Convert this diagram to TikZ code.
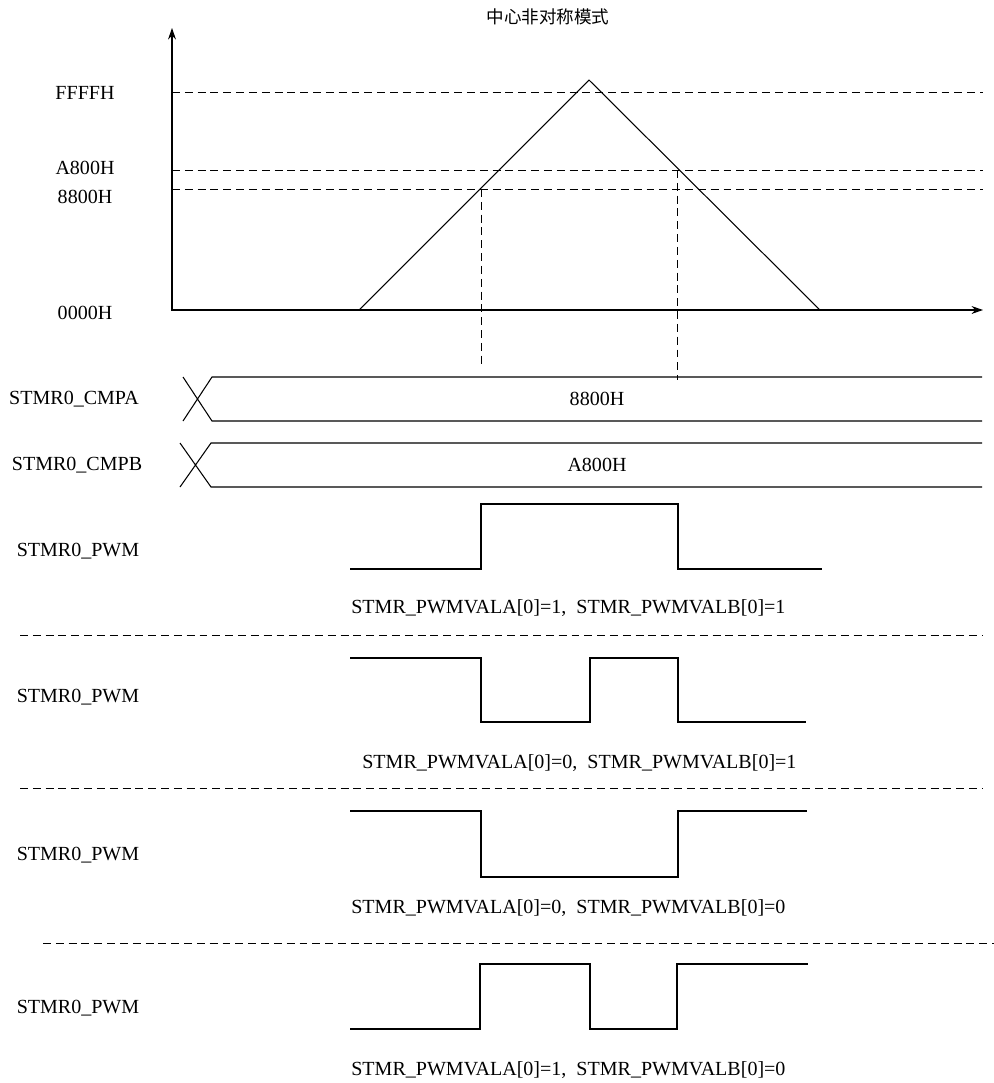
\documentclass[tikz,border=0pt]{standalone}
\usepackage{fontspec}
\setmainfont{Liberation Serif}
\newfontfamily\cjk{Noto Sans CJK SC}
\usetikzlibrary{arrows.meta}

\tikzset{
  lbl/.style={inner sep=0pt,font=\fontsize{11.4}{13}\selectfont},
  wave/.style={line width=0.6pt},
  guide/.style={line width=0.5pt,dash pattern=on 4.5pt off 2.8pt},
}

\begin{document}
\begin{tikzpicture}[x=0.02cm,y=-0.02cm]
  \useasboundingbox (0,0) rectangle (994,1083);
  % counter ramp
  \node[lbl,font=\cjk\fontsize{10}{12}\selectfont] (title) at (548,17) {中心非对称模式};
  \draw[wave,{Stealth[length=6.5pt,width=4.5pt]}-{Stealth[length=6.5pt,width=4.5pt]}]
    (172,28) -- (172,310) -- (983,310);
  \foreach \y in {92,170,189}
    \draw[guide] (172,\y) -- (983,\y);
  \draw
    (85,93) node[lbl] (ffff){FFFFH}
    (85,168) node[lbl] (a800){A800H}
    (85,197) node[lbl] (h8800){8800H}
    (85,313) node[lbl] (zero){0000H};
  \draw[wave] (359,310) -- (589,80) -- (820,310);
  \draw[guide] (481,189) -- (481,365);
  \draw[guide] (677,170) -- (677,380);
  % compare registers
  \draw[wave] (183,377) -- (212,421) -- (982,421)
              (183,421) -- (212,377) -- (982,377);
  \draw[wave] (180,443) -- (211,487) -- (982,487)
              (180,487) -- (211,443) -- (982,443);
  \draw
    (74,399) node[lbl] (cmpa){STMR0\_CMPA}
    (597,399) node[lbl] (cmpaval){8800H}
    (77,465) node[lbl] (cmpb){STMR0\_CMPB}
    (597,465) node[lbl] (cmpbval){A800H};
  % pwm outputs
  \draw[wave] (350,569) -- (481,569) -- (481,504) -- (678,504) -- (678,569) -- (822,569);
  \draw[wave] (350,658) -- (481,658) -- (481,722) -- (590,722) -- (590,658)
              -- (678,658) -- (678,722) -- (806,722);
  \draw[wave] (350,811) -- (481,811) -- (481,877) -- (678,877) -- (678,811) -- (807,811);
  \draw[wave] (350,1029) -- (480,1029) -- (480,964) -- (590,964) -- (590,1029)
              -- (677,1029) -- (677,964) -- (808,964);
  \draw
    (78,551) node[lbl] (pwma){STMR0\_PWM}
    (78,697) node[lbl] (pwmb){STMR0\_PWM}
    (78,855) node[lbl] (pwmc){STMR0\_PWM}
    (78,1008) node[lbl] (pwmd){STMR0\_PWM};
  \draw
    (351,608) node[lbl,anchor=west] (capa){STMR\_PWMVALA[0]=1,\enspace STMR\_PWMVALB[0]=1}
    (362,763) node[lbl,anchor=west] (capb){STMR\_PWMVALA[0]=0,\enspace STMR\_PWMVALB[0]=1}
    (351,908) node[lbl,anchor=west] (capc){STMR\_PWMVALA[0]=0,\enspace STMR\_PWMVALB[0]=0}
    (351,1070) node[lbl,anchor=west] (capd){STMR\_PWMVALA[0]=1,\enspace STMR\_PWMVALB[0]=0};
  % separators
  \draw[guide] (20,635) -- (982,635);
  \draw[guide] (20,788) -- (982,788);
  \draw[guide] (43,943) -- (994,943);
\end{tikzpicture}
\end{document}
